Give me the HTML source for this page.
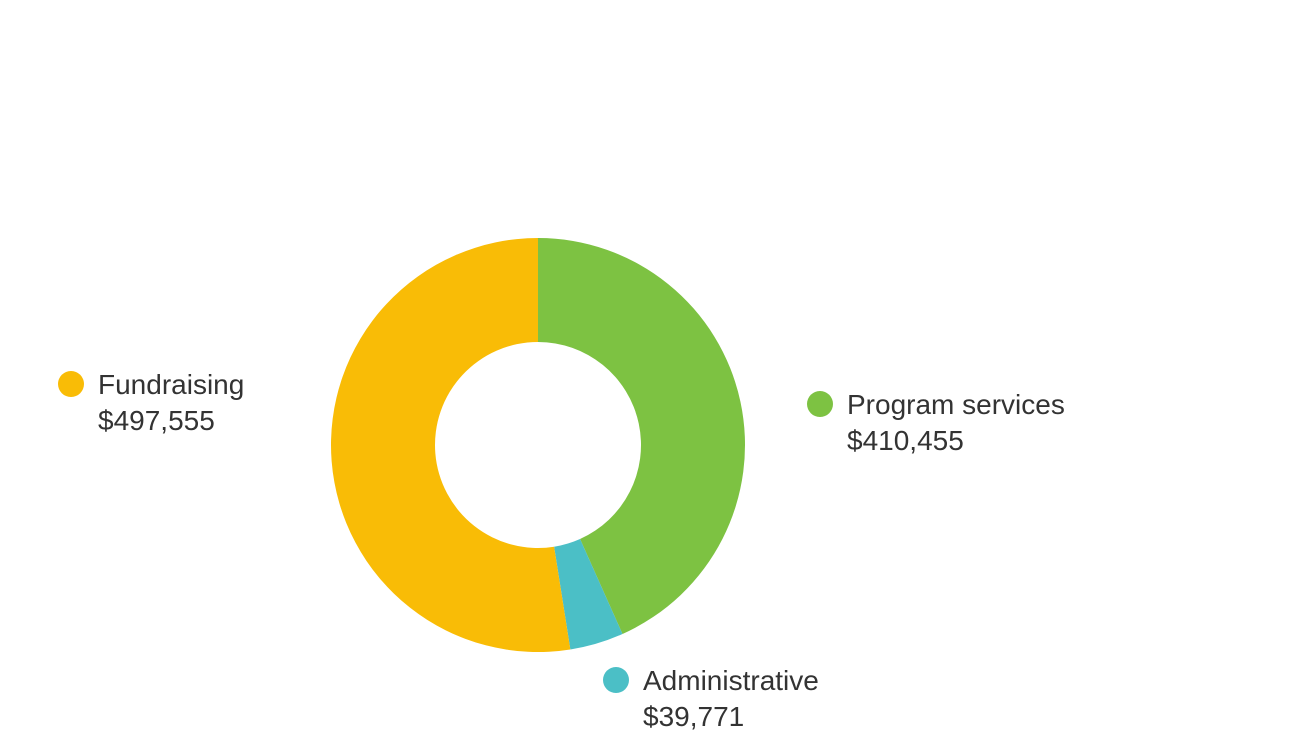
<!DOCTYPE html>
<html><head><meta charset="utf-8"><style>
html,body{margin:0;padding:0;background:#fff;}
svg{display:block;}
text{font-family:"Liberation Sans",sans-serif;font-size:28px;fill:#333;}
</style></head><body>
<svg id="chart" width="1300" height="750" viewBox="0 0 1300 750"></svg>
<script>
const categories = ["Program services", "Administrative", "Fundraising"];
const values = [410455, 39771, 497555];
const valueLabels = ["$410,455", "$39,771", "$497,555"];
const colors = ["#7dc242", "#4bbfc6", "#f9bc06"];
const labelPos = [[820, 404], [616, 680], [71, 384]];

const svg = document.getElementById('chart');
const NS = 'http://www.w3.org/2000/svg';
const cx = 538, cy = 445, R = 207, r = 103;
const total = values.reduce((a, b) => a + b, 0);
function pt(a, rad) { return [cx + rad * Math.sin(a), cy - rad * Math.cos(a)]; }
let start = 0;
values.forEach((v, i) => {
  const end = start + v / total * 2 * Math.PI;
  const large = (end - start) > Math.PI ? 1 : 0;
  const [x1, y1] = pt(start, R), [x2, y2] = pt(end, R), [x3, y3] = pt(end, r), [x4, y4] = pt(start, r);
  const p = document.createElementNS(NS, 'path');
  p.setAttribute('d', `M${x1},${y1} A${R},${R} 0 ${large} 1 ${x2},${y2} L${x3},${y3} A${r},${r} 0 ${large} 0 ${x4},${y4} Z`);
  p.setAttribute('fill', colors[i]);
  
  
  svg.appendChild(p);
  start = end;
});
categories.forEach((c, i) => {
  const [lx, ly] = labelPos[i];
  const g = document.createElementNS(NS, 'g');
  
  
  const dot = document.createElementNS(NS, 'circle');
  dot.setAttribute('cx', lx); dot.setAttribute('cy', ly); dot.setAttribute('r', 13);
  dot.setAttribute('fill', colors[i]);
  
  
  g.appendChild(dot);
  const t1 = document.createElementNS(NS, 'text');
  t1.setAttribute('x', lx + 27); t1.setAttribute('y', ly + 10);
  t1.textContent = c;
  
  
  g.appendChild(t1);
  const t2 = document.createElementNS(NS, 'text');
  t2.setAttribute('x', lx + 27); t2.setAttribute('y', ly + 46);
  t2.textContent = valueLabels[i];
  
  
  g.appendChild(t2);
  svg.appendChild(g);
});
</script>
</body></html>
